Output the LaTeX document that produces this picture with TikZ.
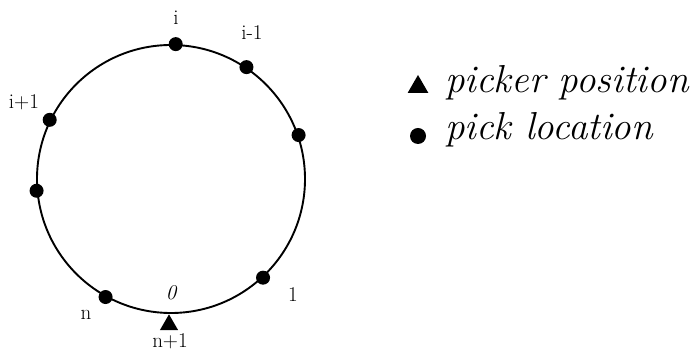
\documentclass[tikz,border=0pt]{standalone}
\usepackage{fontspec}
\usepackage{tikz}
\usetikzlibrary{positioning,shapes.geometric}

\begin{document}
\begin{tikzpicture}[
  x=1pt, y=1pt,
  ring/.style={circle, draw=black, line width=1.9pt, inner sep=0pt, minimum size=268pt},
  loc/.style={circle, fill=black, inner sep=0pt, minimum size=14pt},
  pkr/.style={regular polygon, regular polygon sides=3, fill=black, inner sep=0pt, minimum size=21pt},
  lab/.style={font=\fontsize{21}{22}\selectfont, inner sep=1pt},
  leg/.style={font=\fontsize{39}{42}\selectfont\itshape, anchor=base west, inner sep=0pt},
]
\useasboundingbox (0,0) rectangle (693,355);

% ---------- tour ----------
\node[ring] (tour) at (171,176) {};
\foreach \a/\n in {88/li,56/lim,19/lr,-47/lone,-119/ln,185/ll,154/lip}{
  \node[loc] (\n) at (tour.\a) {};
}
\node[pkr, anchor=corner 1] (start) at ([xshift=-2pt]tour.south) {};

% ---------- labels ----------
\node[lab] (tli)  at (176,337) {i};
\node[lab] (tlim) at (252,322) {i-1};
\node[lab] (tlip) at (24,253)  {i+1};
\node[lab] (tlone) at (293,60) {1};
\node[lab, font=\fontsize{21}{22}\selectfont\itshape] (tzero) at (171,62) {0};
\node[lab] (tln)  at (86,40)   {n};
\node[lab] (tend) at (170,14)  {n+1};

% ---------- legend ----------
\node[pkr, minimum size=24pt] (kpkr) at (418,268) {};
\node[loc, minimum size=16pt] (kloc) at (418,219) {};
\node[leg] (tpkr) at (445,262) {picker position};
\node[leg] (tloc) at (445,215) {pick location};
\end{tikzpicture}
\end{document}
